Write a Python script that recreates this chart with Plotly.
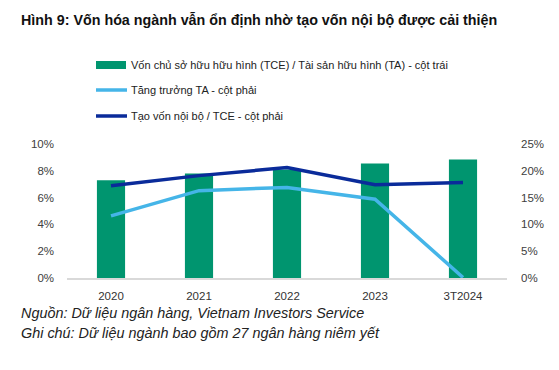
import plotly.graph_objects as go

categories = ["2020", "2021", "2022", "2023", "3T2024"]
tce_ta = [7.3, 7.8, 8.1, 8.55, 8.85]          # % left axis
ta_growth = [11.6, 16.3, 16.9, 14.7, 0.1]     # % right axis
internal_cap = [17.2, 19.1, 20.6, 17.4, 17.8] # % right axis

left_ticks = [0, 2, 4, 6, 8, 10]
left_labels = ["0%", "2%", "4%", "6%", "8%", "10%"]
right_ticks = [0, 5, 10, 15, 20, 25]
right_labels = ["0%", "5%", "10%", "15%", "20%", "25%"]

GREEN = "#00956F"
LIGHT = "#45B5E8"
DARK = "#0A2B9A"
FONT = "Liberation Sans"

OFF = 8  # page body margin
W, H = 559 - OFF, 370 - OFF
# target pixel positions in the screenshot
PL, PR, PT, PB = 67, 507, 144, 278
L, T = PL - OFF, PT - OFF
R = W - (PR - OFF)
B = H - (PB - OFF)
PW, PH = PR - PL, PB - PT

def px(x):
    return (x - PL) / PW

def py(y):
    return (PB - y) / PH

fig = go.Figure()
fig.add_trace(go.Bar(x=categories, y=tce_ta, marker_color=GREEN, width=0.32,
                     marker_line_width=0, yaxis="y", showlegend=False))
fig.add_trace(go.Scatter(x=categories, y=ta_growth, mode="lines",
                         line=dict(color=LIGHT, width=3.5), yaxis="y2", showlegend=False))
fig.add_trace(go.Scatter(x=categories, y=internal_cap, mode="lines",
                         line=dict(color=DARK, width=3.5), yaxis="y2", showlegend=False))

shapes = [
    dict(type="rect", xref="paper", yref="paper", x0=px(96), x1=px(126), y0=py(69), y1=py(61),
         fillcolor=GREEN, line_width=0),
    dict(type="line", xref="paper", yref="paper", x0=px(96), x1=px(127), y0=py(90), y1=py(90),
         line=dict(color=LIGHT, width=3.5)),
    dict(type="line", xref="paper", yref="paper", x0=px(96), x1=px(127), y0=py(116), y1=py(116),
         line=dict(color=DARK, width=3.5)),
]

legend_texts = [
    ("Vốn chủ sở hữu hữu hình (TCE) / Tài sản hữu hình (TA) - cột trái", 65),
    ("Tăng trưởng TA - cột phải", 90),
    ("Tạo vốn nội bộ / TCE - cột phải", 116),
]
annotations = []
for txt, yy in legend_texts:
    annotations.append(dict(text=txt, xref="paper", yref="paper", x=px(129), y=py(yy),
                            xanchor="left", yanchor="middle", showarrow=False,
                            font=dict(family=FONT, size=11, color="#222")))
annotations.append(dict(text="<b>Hình 9: Vốn hóa ngành vẫn ổn định nhờ tạo vốn nội bộ được cải thiện</b>",
                        xref="paper", yref="paper", x=px(19), y=py(20), xanchor="left", yanchor="middle",
                        showarrow=False, font=dict(family=FONT, size=14.3, color="#111")))
annotations.append(dict(text="<i>Nguồn: Dữ liệu ngân hàng, Vietnam Investors Service</i>",
                        xref="paper", yref="paper", x=px(19), y=py(313), xanchor="left", yanchor="middle",
                        showarrow=False, font=dict(family=FONT, size=14.4, color="#222")))
annotations.append(dict(text="<i>Ghi chú: Dữ liệu ngành bao gồm 27 ngân hàng niêm yết</i>",
                        xref="paper", yref="paper", x=px(19), y=py(333), xanchor="left", yanchor="middle",
                        showarrow=False, font=dict(family=FONT, size=14.4, color="#222")))

fig.update_layout(
    width=W, height=H,
    margin=dict(l=L, r=R, t=T, b=B, autoexpand=False),
    paper_bgcolor="white", plot_bgcolor="white",
    font=dict(family=FONT, size=11.5, color="#404040"),
    xaxis=dict(showgrid=False, showline=True, linecolor="#D9D9D9", linewidth=1.5,
               ticks="", ticklabelstandoff=6, tickfont=dict(size=11.5, color="#333")),
    yaxis=dict(range=[0, 10], tickvals=left_ticks, ticktext=left_labels, showgrid=False,
               zeroline=False, showline=False, ticks="", ticklabelstandoff=12,
               tickfont=dict(size=11.5, color="#404040")),
    yaxis2=dict(range=[0, 25], tickvals=right_ticks, ticktext=right_labels, overlaying="y",
                side="right", showgrid=False, zeroline=False, showline=False, ticks="",
                ticklabelstandoff=13, tickfont=dict(size=11.5, color="#404040")),
    shapes=shapes, annotations=annotations, showlegend=False,
)

fig.write_html("out.html")
